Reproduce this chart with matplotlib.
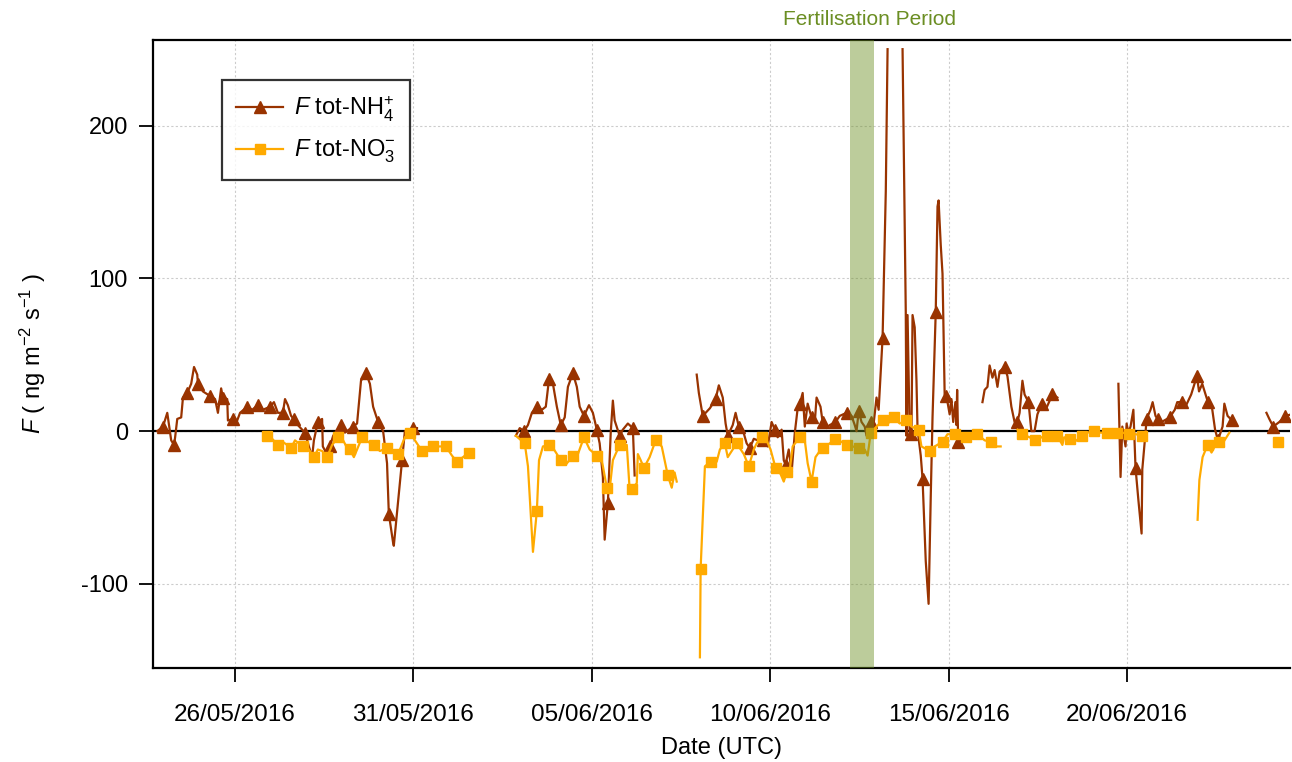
import numpy as np
import matplotlib
matplotlib.use("Agg")
import matplotlib.pyplot as plt
import matplotlib.dates as mdates
import datetime as dt

# ---------------- data (days since 23/05/2016 00:00 UTC, flux in ng m-2 s-1) ----------------
nan = np.nan
nh4_points = [
    (0.82, 0), (0.98, 3), (1.10, 12), (1.21, -6), (1.29, -9), (1.32, -4), (1.38, 8), (1.49, 9),
    (1.54, 22), (1.66, 25), (1.77, 31), (1.85, 42), (1.94, 37), (1.96, 31), (2.10, 26), (2.30, 23),
    (2.44, 21), (2.52, 12), (2.61, 28), (2.66, 22), (2.78, 21), (2.80, 7), (2.94, 8), (3.06, 7),
    (3.14, 12), (3.34, 16), (3.48, 14), (3.64, 17), (3.78, 14), (3.98, 16), (4.09, 19), (4.20, 12),
    (4.34, 12), (4.40, 21), (4.48, 17), (4.57, 10), (4.65, 8), (4.76, 4), (4.96, -1), (5.07, -10),
    (5.16, -17), (5.21, -6), (5.32, 6), (5.44, 8), (5.46, -10), (5.55, -14), (5.66, -10), (5.75, -3),
    (5.97, 4), (6.08, -1), (6.31, 3), (6.42, 5), (6.53, 33), (6.67, 38), (6.78, 31), (6.87, 16),
    (7.01, 6), (7.15, 0), (7.26, -21), (7.31, -54), (7.43, -73), (7.45, -75), (7.68, -19), (7.76, 0),
    (7.99, 2), (8.10, 2),
    (9.50, nan),
    (10.87, -3), (10.98, 2), (11.10, 0), (11.21, 4), (11.32, 12), (11.46, 16), (11.60, 14), (11.71, 16),
    (11.80, 34), (11.91, 31), (12.02, 16), (12.13, 4), (12.24, 9), (12.33, 29), (12.47, 38), (12.58, 29),
    (12.66, 16), (12.78, 10), (12.92, 17), (13.03, 12), (13.14, 1), (13.22, -8), (13.31, -30), (13.36, -71),
    (13.45, -47), (13.53, -1), (13.59, 20), (13.64, 7), (13.78, -3), (13.87, 1), (14.01, 5), (14.15, 2),
    (14.20, -29),
    (15.00, nan),
    (15.94, 37), (16.00, 25), (16.11, 10), (16.31, 15), (16.47, 21), (16.56, 30), (16.67, 22), (16.75, 5),
    (16.81, -3), (16.95, 4), (17.03, 12), (17.12, 3), (17.23, 1), (17.34, -8), (17.43, -11), (17.54, -5),
    (17.65, -6), (17.79, -6), (17.93, -10), (18.04, 6), (18.13, 1), (18.21, -4), (18.32, 1), (18.38, -19),
    (18.43, -22), (18.52, -12), (18.60, -27), (18.69, -1), (18.77, 15), (18.83, 18), (18.91, 25), (18.97, 3),
    (19.05, 18), (19.16, 9), (19.25, 6), (19.30, 22), (19.41, 16), (19.47, 6), (19.58, 2), (19.67, 4),
    (19.83, 6), (19.95, 10), (20.14, 12), (20.28, 10), (20.37, 4), (20.42, 0), (20.48, 13), (20.56, 6),
    (20.65, 3), (20.70, -3), (20.82, 6), (20.90, 5), (20.98, 22), (21.04, 14), (21.15, 61), (21.24, 157),
    (21.29, 250),
    (21.50, nan),
    (21.71, 250), (21.80, 78), (21.82, -3), (21.85, 76), (21.91, -2), (21.96, -2), (21.99, 76), (22.05, 68),
    (22.10, 33), (22.13, 1), (22.22, -16), (22.27, -31), (22.36, -85), (22.44, -113), (22.50, -43), (22.55, 9),
    (22.64, 78), (22.69, 147), (22.72, 151), (22.78, 122), (22.83, 103), (22.89, 24), (22.94, 23), (23.03, 11),
    (23.08, 21), (23.13, 6), (23.19, 19), (23.22, 4), (23.24, 27), (23.27, -7),
    (23.60, nan),
    (23.95, 19), (24.01, 27), (24.09, 29), (24.15, 43), (24.23, 35), (24.29, 40), (24.37, 29), (24.43, 39),
    (24.57, 42), (24.65, 36), (24.76, 16), (24.85, 6), (24.93, 6), (24.99, 12), (25.07, 33), (25.13, 24),
    (25.24, 19), (25.32, 0), (25.41, 0), (25.49, 11), (25.61, 18), (25.72, 14), (25.91, 24), (26.05, 22),
    (27.00, nan),
    (27.76, 31), (27.82, -30), (27.87, 3), (27.96, -10), (27.99, 5), (28.04, -1), (28.10, 3), (28.18, 14),
    (28.24, -24), (28.32, -45), (28.41, -67), (28.43, -25), (28.52, -1), (28.55, 8), (28.66, 14), (28.72, 19),
    (28.80, 10), (28.86, 8), (28.97, 6), (29.20, 9), (29.34, 14), (29.41, 19), (29.55, 19), (29.66, 17),
    (29.80, 24), (29.96, 36), (30.02, 26), (30.11, 31), (30.19, 25), (30.27, 19), (30.38, 16), (30.47, 1),
    (30.55, -6), (30.68, 3), (30.73, 18), (30.82, 10), (30.95, 7),
    (31.40, nan),
    (31.91, 12), (31.99, 8), (32.10, 3), (32.27, 6), (32.44, 10), (32.61, 11),
]
# days at which the reference draws a triangle marker
nh4_marker_days = [
    0.98, 1.29, 1.66, 1.96, 2.30, 2.66, 2.94, 3.34, 3.64, 3.98, 4.34, 4.65, 4.96, 5.32, 5.66, 5.97,
    6.31, 6.67, 7.01, 7.31, 7.68, 7.99,
    11.10, 11.46, 11.80, 12.13, 12.47, 12.78, 13.14, 13.45, 13.78, 14.15,
    16.11, 16.47, 16.81, 17.12, 17.43, 17.79, 18.13, 18.43, 18.83, 19.16, 19.47, 19.83, 20.14, 20.48,
    20.82, 21.15, 21.96, 22.27, 22.64, 22.94, 23.27,
    24.57, 24.93, 25.24, 25.61, 25.91,
    28.24, 28.55, 28.86, 29.20, 29.55, 29.96, 30.27, 30.55, 30.95,
    32.10, 32.44,
]

no3_points = [
    (3.90, -3), (4.04, -5), (4.20, -9), (4.34, -7), (4.57, -11), (4.68, -6), (4.90, -10), (5.04, -11),
    (5.21, -17), (5.32, -12), (5.44, -13), (5.58, -17), (5.72, -9), (5.89, -4), (6.03, -6), (6.14, -11),
    (6.22, -12), (6.33, -17), (6.42, -12), (6.56, -4), (6.73, -7), (6.89, -9), (7.06, -13), (7.26, -11),
    (7.40, -12), (7.57, -15), (7.76, -4), (7.90, -1), (8.10, -8), (8.24, -13), (8.41, -11), (8.55, -10),
    (8.91, -10), (9.08, -16), (9.22, -20), (9.39, -17), (9.55, -14),
    (10.20, nan),
    (10.87, -3), (11.12, -8), (11.21, -23), (11.35, -79), (11.46, -52), (11.52, -19), (11.63, -10), (11.80, -9),
    (11.94, -12), (12.13, -19), (12.27, -22), (12.47, -16), (12.58, -17), (12.78, -4), (12.94, -12), (13.14, -16),
    (13.28, -19), (13.42, -37), (13.50, -38), (13.59, -19), (13.78, -9), (13.98, -9), (14.06, -38), (14.12, -38),
    (14.26, -34), (14.29, -15), (14.37, -19), (14.46, -24), (14.62, -17), (14.79, -6), (14.96, -10), (15.13, -29),
    (15.24, -37), (15.32, -27), (15.38, -33),
    (15.70, nan),
    (16.03, -148), (16.05, -90), (16.17, -23), (16.33, -20), (16.50, -20), (16.59, -12), (16.73, -8), (16.81, -17),
    (17.06, -8), (17.26, -15), (17.40, -23), (17.54, -12), (17.62, -8), (17.76, -4), (17.90, -6), (18.01, -12),
    (18.15, -24), (18.29, -28), (18.38, -33), (18.46, -27), (18.55, -25), (18.63, -10), (18.83, -4), (18.97, -6),
    (19.05, -21), (19.16, -33), (19.27, -17), (19.39, -13), (19.47, -11), (19.67, -8), (19.83, -5), (20.00, -7),
    (20.14, -9), (20.31, -10), (20.48, -11), (20.65, -12), (20.73, -16), (20.82, -1), (20.98, 3), (21.15, 7),
    (21.26, 4), (21.46, 9), (21.63, 5), (21.80, 7), (21.96, 3), (22.16, 1), (22.24, -10), (22.47, -13),
    (22.61, -10), (22.83, -7), (22.97, -2), (23.17, -2), (23.31, -5), (23.50, -4), (23.67, -3), (23.81, -2),
    (24.01, -6), (24.18, -7), (24.35, -10), (24.46, -10),
    (24.70, nan),
    (24.93, 1), (25.07, -2), (25.27, -4), (25.41, -6), (25.61, -4), (25.75, -3), (25.91, -4), (26.05, -3),
    (26.19, -9), (26.24, -4), (26.39, -5), (26.53, -7), (26.75, -3), (26.89, -1), (27.09, 0), (27.26, -1),
    (27.43, -1), (27.57, -1), (27.71, -1), (27.88, -1), (28.05, -2), (28.25, -2), (28.43, -3),
    (29.20, nan),
    (29.98, -58), (30.03, -32), (30.12, -17), (30.26, -9), (30.37, -14), (30.46, -10), (30.59, -7), (30.68, -8),
    (30.79, -4), (30.87, -1),
    (31.50, nan),
    (32.18, -7), (32.24, -7), (32.29, -7),
]
# days at which the reference draws a square marker
no3_marker_days = [
    3.90, 4.20, 4.57, 4.90, 5.21, 5.58, 5.89, 6.22, 6.56, 6.89, 7.26, 7.57, 7.90, 8.24, 8.55, 8.91,
    9.22, 9.55,
    11.12, 11.46, 11.80, 12.13, 12.47, 12.78, 13.14, 13.42, 13.78, 14.12, 14.46, 14.79, 15.13,
    16.05, 16.33, 16.73, 17.06, 17.40, 17.76, 18.15, 18.46, 18.83, 19.16, 19.47, 19.83, 20.14, 20.48,
    20.82, 21.15, 21.46, 21.80, 22.16, 22.47, 22.83, 23.17, 23.50, 23.81, 24.18,
    25.07, 25.41, 25.75, 26.05, 26.39, 26.75, 27.09, 27.43, 27.71, 28.05, 28.43,
    30.26, 30.59,
    32.24,
]

start_date = dt.datetime(2016, 5, 23)
x_range_days = (0.70, 32.57)
fert_period_days = (20.25, 20.90)
fert_label_day = 20.78
xtick_dates = [dt.datetime(2016, 5, 26), dt.datetime(2016, 5, 31), dt.datetime(2016, 6, 5),
               dt.datetime(2016, 6, 10), dt.datetime(2016, 6, 15), dt.datetime(2016, 6, 20)]
yticks = [-100, 0, 100, 200]
y_range = (-155, 256)

# ---------------- style ----------------
plt.rcParams['font.family'] = ['Liberation Sans', 'DejaVu Sans']
plt.rcParams['mathtext.fontset'] = 'custom'
plt.rcParams['mathtext.rm'] = 'Liberation Sans'
plt.rcParams['mathtext.it'] = 'Liberation Sans:italic'
plt.rcParams['axes.unicode_minus'] = False

NH4_COLOR = '#993300'
NO3_COLOR = '#FFAA00'
FERT_COLOR = '#6B8E23'

fig = plt.figure(figsize=(12.92, 7.62), dpi=100)
ax = fig.add_axes([153 / 1292, 94 / 762, (1290 - 153) / 1292, (668 - 40) / 762])

base = mdates.date2num(start_date)
nh4 = np.array(nh4_points, dtype=float)
no3 = np.array(no3_points, dtype=float)
nh4_mk = np.flatnonzero(np.isin(np.round(nh4[:, 0], 2), np.round(nh4_marker_days, 2)))
no3_mk = np.flatnonzero(np.isin(np.round(no3[:, 0], 2), np.round(no3_marker_days, 2)))

ax.plot(base + nh4[:, 0], nh4[:, 1], color=NH4_COLOR, lw=1.6, marker='^', ms=9,
        markevery=list(nh4_mk), label=r'$\it{F}$ tot-NH$_4^{+}$', zorder=3)
ax.plot(base + no3[:, 0], no3[:, 1], color=NO3_COLOR, lw=1.6, marker='s', ms=7,
        markevery=list(no3_mk), label=r'$\it{F}$ tot-NO$_3^{-}$', zorder=4)

ax.axhline(0, color='black', lw=1.6, zorder=2)
ax.axvspan(base + fert_period_days[0], base + fert_period_days[1], color=FERT_COLOR,
           alpha=0.45, lw=0, zorder=5)
ax.text(base + fert_label_day, 1.018, 'Fertilisation Period', color=FERT_COLOR,
        fontsize=15, ha='center', va='bottom', transform=ax.get_xaxis_transform())

ax.set_xlim(base + x_range_days[0], base + x_range_days[1])
ax.set_ylim(*y_range)
ax.set_xticks(mdates.date2num(xtick_dates))
ax.xaxis.set_major_formatter(mdates.DateFormatter('%d/%m/%Y'))
ax.set_yticks(yticks)
ax.grid(True, color='#cccccc', ls=(0, (2, 2)), lw=0.8, zorder=0)
ax.tick_params(axis='both', labelsize=17, direction='out', length=10, width=1.3, color='black', pad=8)
ax.tick_params(axis='x', pad=16, labelsize=17.5)
for s in ['left', 'bottom', 'top']:
    ax.spines[s].set_linewidth(1.6)
ax.spines['right'].set_visible(False)

ax.set_xlabel('Date (UTC)', fontsize=17, labelpad=8)
ax.set_ylabel(r'$\it{F}$ ( ng m$^{-2}$ s$^{-1}$ )', fontsize=17, labelpad=24)

handles, labels = ax.get_legend_handles_labels()
leg = ax.legend(handles, labels, loc='upper left', bbox_to_anchor=(0.0607, 0.936),
                fontsize=17, frameon=True, fancybox=False, edgecolor='black',
                handlelength=2.0, handletextpad=0.45, borderpad=0.6, labelspacing=0.6,
                borderaxespad=0)
leg.get_frame().set_linewidth(1.6)

fig.savefig('out.png', dpi=100)
